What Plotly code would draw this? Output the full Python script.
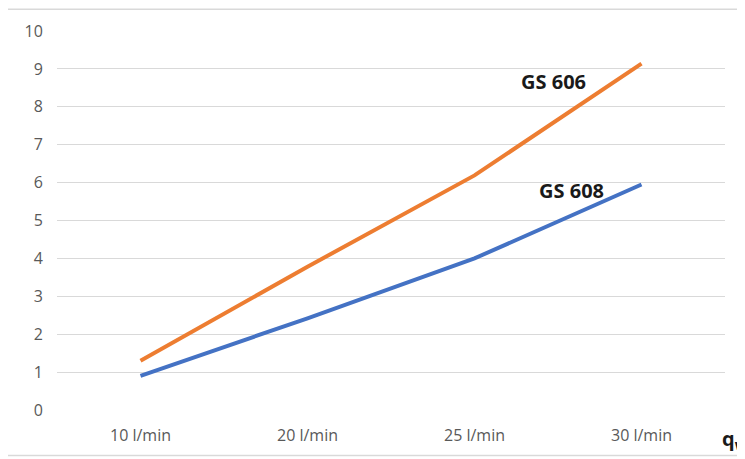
import plotly.graph_objects as go

categories = ["10 l/min", "20 l/min", "25 l/min", "30 l/min"]
gs606 = [1.3, 3.78, 6.19, 9.14]
gs608 = [0.9, 2.42, 4.0, 5.95]
y_ticks = list(range(0, 11))

fig = go.Figure()
fig.add_trace(go.Scatter(x=categories, y=gs608, mode="lines", name="GS 608",
                         line=dict(color="#4472C4", width=4)))
fig.add_trace(go.Scatter(x=categories, y=gs606, mode="lines", name="GS 606",
                         line=dict(color="#ED7D31", width=4)))

W, H = 745, 459
OFF = 8  # page body margin
l, r, t, b = 57 - OFF, 20 + OFF, 27 - OFF, 49 + OFF
pw, ph = W - l - r, H - t - b

def px(x):
    return (x - OFF - l) / pw

def py(y):
    return (H - b - (y - OFF)) / ph

FONT = "Open Sans, Liberation Sans, sans-serif"

fig.update_layout(
    width=W, height=H,
    margin=dict(l=l, r=r, t=t, b=b),
    paper_bgcolor="white", plot_bgcolor="white",
    showlegend=False,
    font=dict(family=FONT, color="#595959", size=16),
    xaxis=dict(type="category", range=[-0.5, 3.5], showgrid=False, zeroline=False,
               showline=False, ticks="outside", ticklen=11, tickcolor="rgba(0,0,0,0)",
               tickfont=dict(size=16, color="#595959")),
    yaxis=dict(range=[0, 10], tickvals=y_ticks, showgrid=True, gridcolor="#d9d9d9",
               gridwidth=1, zeroline=False, showline=False, ticks="outside", ticklen=10,
               tickcolor="rgba(0,0,0,0)", tickfont=dict(size=16, color="#595959")),
    shapes=[dict(type="rect", xref="paper", yref="paper",
                 x0=px(7), x1=px(770), y0=py(456), y1=py(5),
                 line=dict(color="#d9d9d9", width=1.5), fillcolor="rgba(0,0,0,0)", layer="below")],
    annotations=[
        dict(x=px(553), y=py(78), xref="paper", yref="paper", xanchor="center", yanchor="middle",
             text="<b>GS 606</b>", showarrow=False,
             font=dict(size=20, color="#1a1a1a", family=FONT)),
        dict(x=px(571), y=py(188), xref="paper", yref="paper", xanchor="center", yanchor="middle",
             text="<b>GS 608</b>", showarrow=False,
             font=dict(size=20, color="#1a1a1a", family=FONT)),
        dict(x=px(720), y=py(440), xref="paper", yref="paper", xanchor="left", yanchor="middle",
             text="<b>q<sub>w</sub></b>", showarrow=False,
             font=dict(size=20, color="#1a1a1a", family=FONT)),
    ],
)

fig.write_html("out.html")
